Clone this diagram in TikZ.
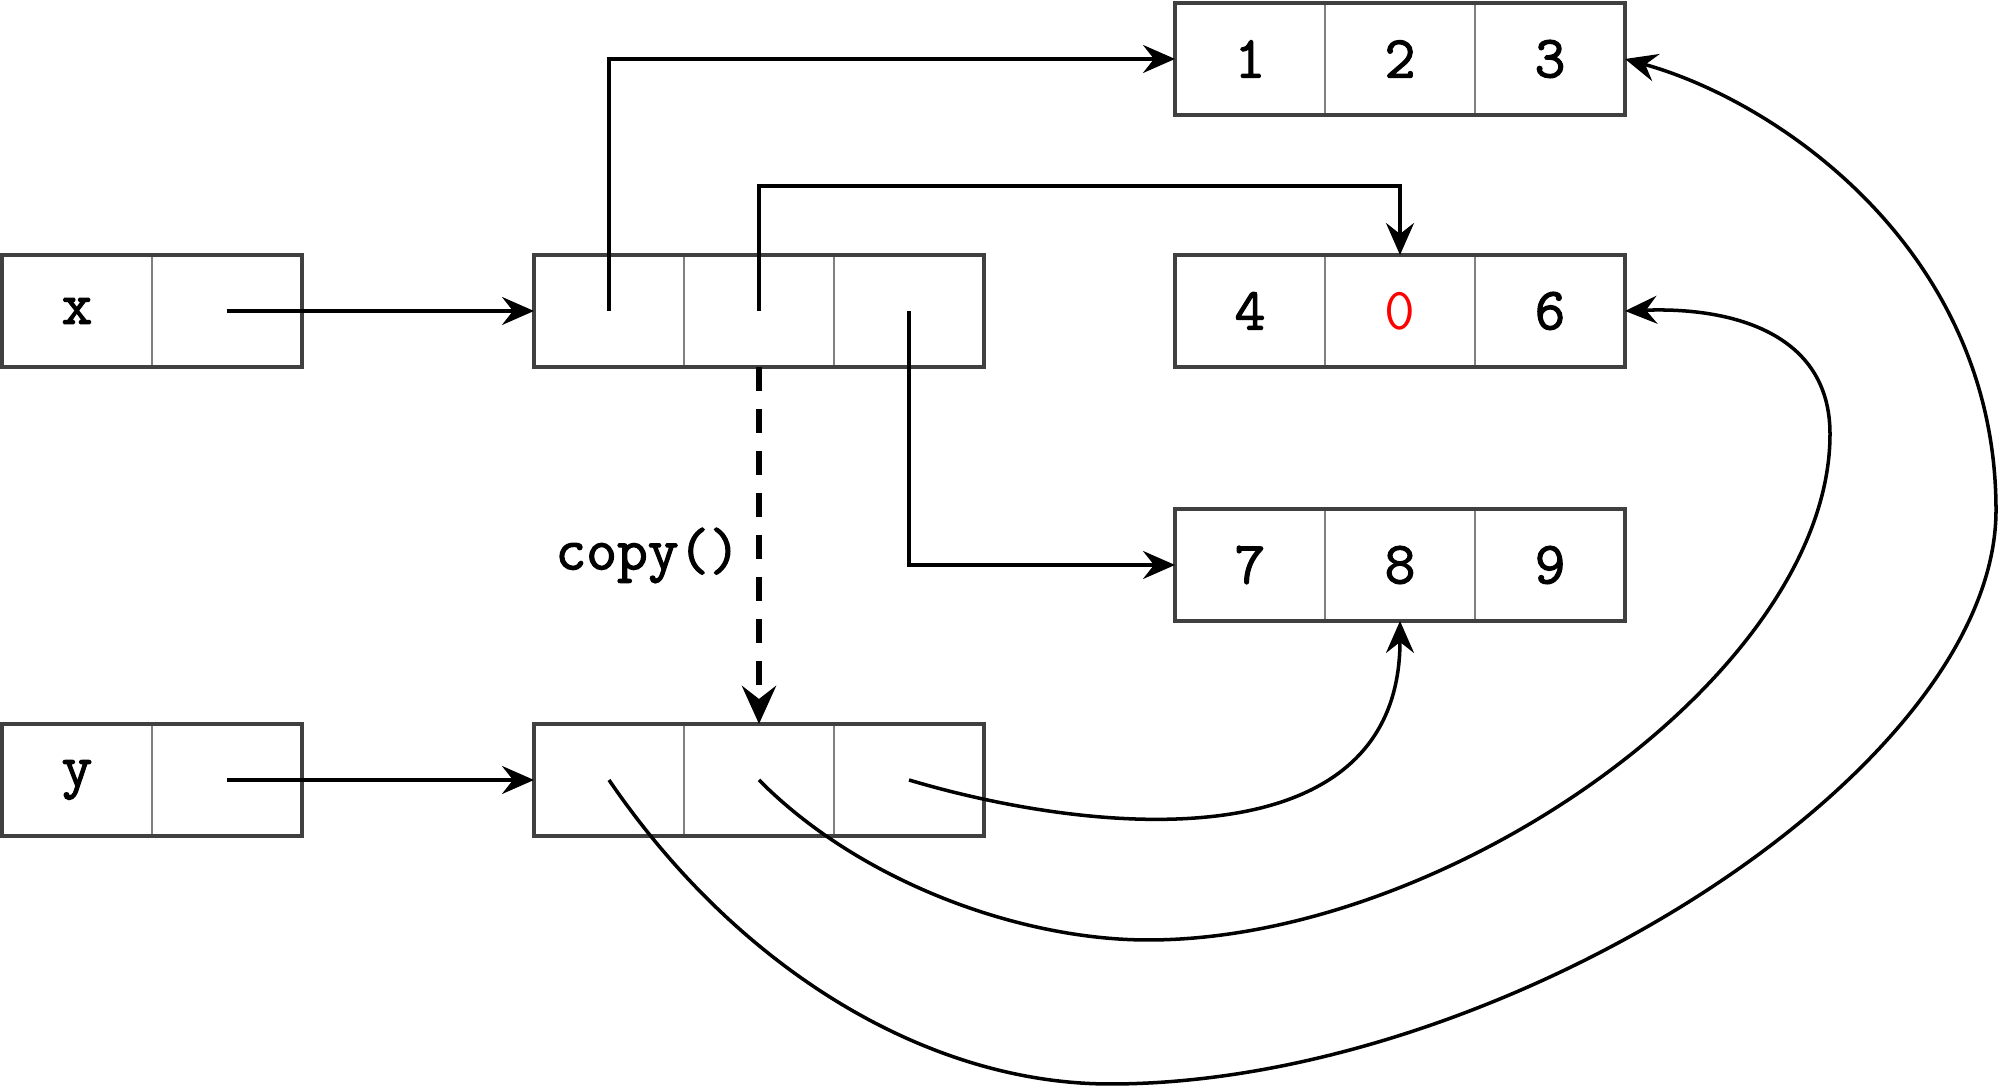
\documentclass[tikz,border=0pt]{standalone}
\usepackage{fontspec}
\setmonofont{Latin Modern Mono}[BoldFont={Latin Modern Mono}, BoldFeatures={FakeBold=2}]
\usepackage{xcolor}
\usepackage{tikz}
\usetikzlibrary{arrows.meta,positioning}
\definecolor{cellgray}{RGB}{128,128,128}
\definecolor{framegray}{RGB}{64,64,64}
\definecolor{valred}{RGB}{255,0,0}

\begin{document}
\begin{tikzpicture}[font=\ttfamily\bfseries\fontsize{17}{20}\selectfont, >={Stealth[length=3.2mm,width=2.8mm,inset=1.1mm]}]
  \tikzset{cell/.style={draw=cellgray, line width=0.6pt, minimum width=15mm, minimum height=11.2mm, inner sep=0pt, outer sep=0pt},frame/.style={draw=framegray, line width=1pt},ptr/.style={->, line width=1pt},ref/.style={->, line width=1pt}}
  \useasboundingbox (0,0) rectangle (20,10.92);
  % variables
  \node[cell] (x1) at (0.77,7.81) {x};
  \node[cell, right=0pt of x1] (x2) {};
  \node[cell] (y1) at (0.77,3.12) {y};
  \node[cell, right=0pt of y1] (y2) {};
  % outer lists
  \node[cell] (a1) at (6.09,7.81) {};
  \node[cell, right=0pt of a1] (a2) {};
  \node[cell, right=0pt of a2] (a3) {};
  \node[cell] (b1) at (6.09,3.12) {};
  \node[cell, right=0pt of b1] (b2) {};
  \node[cell, right=0pt of b2] (b3) {};
  % inner lists
  \node[cell] (t1) at (12.50,10.33) {1};
  \node[cell, right=0pt of t1] (t2) {2};
  \node[cell, right=0pt of t2] (t3) {3};
  \node[cell] (m1) at (12.50,7.81) {4};
  \node[cell, right=0pt of m1, text=valred, font=\ttfamily\fontsize{17}{20}\selectfont] (m2) {0};
  \node[cell, right=0pt of m2] (m3) {6};
  \node[cell] (l1) at (12.50,5.27) {7};
  \node[cell, right=0pt of l1] (l2) {8};
  \node[cell, right=0pt of l2] (l3) {9};
  \draw[frame] (x1.north west) rectangle (x2.south east);
  \draw[frame] (y1.north west) rectangle (y2.south east);
  \draw[frame] (a1.north west) rectangle (a3.south east);
  \draw[frame] (b1.north west) rectangle (b3.south east);
  \draw[frame] (t1.north west) rectangle (t3.south east);
  \draw[frame] (m1.north west) rectangle (m3.south east);
  \draw[frame] (l1.north west) rectangle (l3.south east);
  % references of x
  \draw[ptr] (x2.center) -- (a1.west);
  \draw[ptr] (a1.center) |- (t1.west);
  \draw[ptr] (a2.center) -- ++(0,1.25) -| (m2.north);
  \draw[ptr] (a3.center) |- (l1.west);
  % shallow copy
  \draw[-{Stealth[length=3.8mm,width=3.4mm,inset=1.3mm]}, line width=1.8pt, dash pattern=on 2.4mm off 1.8mm] (a2.south) -- node[left=0.4mm, yshift=-1mm]{copy()} (b2.north);
  % references of y
  \draw[ptr] (y2.center) -- (b1.west);
  \draw[ref] (b3.center) .. controls (11.0,2.55) and (14.0,2.3) .. (l2.south);
  \draw[ref] (b2.center) .. controls (8.6,2.1) and (10.2,1.52) .. (11.48,1.52)
    .. controls (14.5,1.52) and (18.3,4.2) .. (18.30,6.58)
    .. controls (18.3,7.6) and (17.3,7.85) .. (m3.east);
  \draw[ref] (b1.center) .. controls (7.4,1.2) and (9.3,0.08) .. (11.1,0.08)
    .. controls (15.0,0.08) and (19.96,3.2) .. (19.96,5.82)
    .. controls (19.96,8.4) and (17.8,9.9) .. (t3.east);
\end{tikzpicture}
\end{document}
